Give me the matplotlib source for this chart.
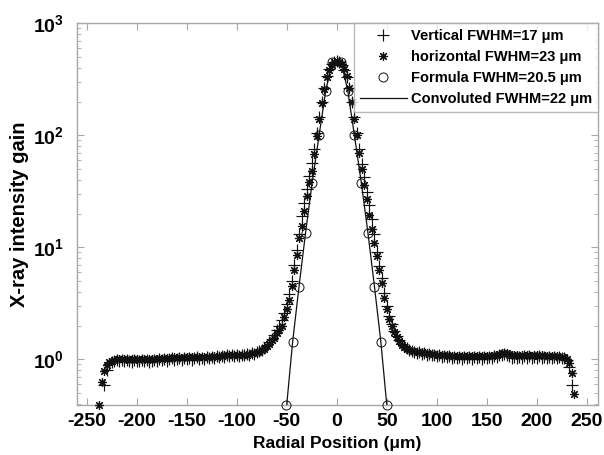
import numpy as np
import matplotlib
matplotlib.use("Agg")
import matplotlib.pyplot as plt
from matplotlib.ticker import FixedLocator, FuncFormatter, LogLocator, NullFormatter
from matplotlib.lines import Line2D

plt.rcParams['font.family'] = ['Liberation Sans', 'DejaVu Sans']
plt.rcParams['mathtext.fontset'] = 'custom'
plt.rcParams['mathtext.rm'] = 'Liberation Sans:bold'
plt.rcParams['mathtext.bf'] = 'Liberation Sans:bold'
plt.rcParams['mathtext.it'] = 'Liberation Sans:bold'

# ---------------- data ----------------
horiz_x0 = -237.5
horiz_step = 2.5
horiz_y = [
    0.39, 0.62, 0.78, 0.88, 0.94, 0.97, 0.99, 1.00, 1.01, 1.00,
    1.01, 1.00, 0.99, 1.00, 1.01, 1.00, 0.99, 1.00, 1.00, 0.99,
    1.00, 1.01, 1.00, 1.01, 1.02, 1.01, 1.02, 1.03, 1.02, 1.03,
    1.04, 1.03, 1.04, 1.03, 1.04, 1.04, 1.05, 1.04, 1.04, 1.05,
    1.04, 1.05, 1.05, 1.04, 1.05, 1.05, 1.06, 1.05, 1.06, 1.07,
    1.08, 1.09, 1.10, 1.10, 1.09, 1.08, 1.08, 1.09, 1.10, 1.10,
    1.12, 1.13, 1.14, 1.15, 1.17, 1.20, 1.24, 1.30, 1.38, 1.48,
    1.55, 1.70, 1.84, 2.0, 2.4, 2.8, 3.4, 4.5, 6.2, 8.6,
    12, 15.5, 21, 28.5, 38, 48, 68, 98, 140, 195,
    260, 330, 385, 425, 450, 460, 452, 430, 388, 335,
    265, 200, 140, 100, 70, 50, 36, 27, 19.5, 14.5,
    11, 8.3, 6.2, 4.8, 3.5, 2.8, 2.3, 2.0, 1.75, 1.58,
    1.45, 1.35, 1.28, 1.24, 1.21, 1.19, 1.18, 1.17, 1.16, 1.15,
    1.14, 1.13, 1.12, 1.12, 1.11, 1.10, 1.10, 1.09, 1.08, 1.08,
    1.07, 1.07, 1.06, 1.06, 1.07, 1.06, 1.06, 1.07, 1.07, 1.06,
    1.07, 1.06, 1.06, 1.07, 1.06, 1.06, 1.07, 1.07, 1.08, 1.09,
    1.11, 1.13, 1.14, 1.13, 1.11, 1.09, 1.08, 1.08, 1.07, 1.08,
    1.07, 1.08, 1.08, 1.07, 1.08, 1.08, 1.07, 1.08, 1.07, 1.07,
    1.06, 1.07, 1.06, 1.06, 1.05, 1.05, 1.04, 1.00, 0.93, 0.76,
    0.49,
]

vert_x0 = -232.5
vert_step = 2.5
vert_y = [
    0.59, 0.80, 0.90, 0.95, 0.97, 0.98, 0.97, 0.99, 0.96, 0.98,
    0.97, 0.95, 0.98, 0.96, 0.97, 0.99, 0.96, 0.98, 0.95, 0.97,
    0.99, 0.97, 1.00, 0.98, 1.01, 0.97, 1.00, 1.02, 0.98, 1.01,
    1.03, 0.99, 1.02, 1.00, 1.03, 0.99, 1.02, 1.04, 1.00, 1.03,
    1.01, 1.04, 1.02, 1.05, 1.03, 1.06, 1.04, 1.07, 1.05, 1.08,
    1.07, 1.10, 1.06, 1.09, 1.07, 1.10, 1.08, 1.12, 1.10, 1.13,
    1.12, 1.16, 1.18, 1.22, 1.27, 1.33, 1.42, 1.52, 1.65, 1.82,
    2.0, 2.25, 2.6, 3.1, 3.8, 5.0, 7.0, 9.5, 13, 19,
    25, 33, 43, 56, 75, 105, 145, 200, 265, 335,
    390, 430, 452, 458, 450, 425, 385, 330, 265, 200,
    145, 105, 75, 55, 42, 31, 24, 18, 13, 9.0,
    6.8, 5.3, 3.9, 3.0, 2.45, 2.05, 1.8, 1.6, 1.48, 1.38,
    1.30, 1.25, 1.22, 1.18, 1.17, 1.14, 1.15, 1.12, 1.13, 1.10,
    1.11, 1.08, 1.10, 1.06, 1.08, 1.05, 1.07, 1.04, 1.06, 1.03,
    1.05, 1.02, 1.05, 1.01, 1.04, 1.02, 1.05, 1.01, 1.04, 1.02,
    1.05, 1.01, 1.04, 1.02, 1.05, 1.03, 1.06, 1.05, 1.08, 1.10,
    1.12, 1.09, 1.06, 1.03, 1.05, 1.02, 1.05, 1.03, 1.06, 1.03,
    1.06, 1.02, 1.05, 1.03, 1.06, 1.02, 1.05, 1.03, 1.05, 1.02,
    1.04, 1.02, 1.04, 1.03, 1.02, 0.98, 0.85, 0.59,
]

formula_x = [-50.5, -44, -37.5, -31, -24.5, -17.5, -11, -4.5,
             4.5, 11, 17.5, 24.5, 31, 37.5, 44, 50.5]
formula_y = [0.39, 1.41, 4.46, 13.5, 37.6, 100, 247, 450,
             450, 247, 100, 37.6, 13.5, 4.46, 1.41, 0.39]

conv_x = [-50, -44, -37.5, -31, -24.5, -17.5, -11, -5, 0,
          5, 11, 17.5, 24.5, 31, 37.5, 44, 50]
conv_y = [0.39, 1.45, 4.6, 13.8, 38, 102, 250, 430, 460,
          430, 250, 102, 38, 13.8, 4.6, 1.45, 0.39]

labels = ["Vertical FWHM=17 \u03bcm", "horizontal FWHM=23 \u03bcm",
          "Formula FWHM=20.5 \u03bcm", "Convoluted FWHM=22 \u03bcm"]
x_ticks = [-250, -200, -150, -100, -50, 0, 50, 100, 150, 200, 250]
y_ticks = [1, 10, 100, 1000]

horiz_x = horiz_x0 + horiz_step * np.arange(len(horiz_y))
vert_x = vert_x0 + vert_step * np.arange(len(vert_y))

# ---------------- figure ----------------
fig = plt.figure(figsize=(6.04, 4.55), dpi=100)
ax = fig.add_axes([0.1267, 0.1099, 0.8633, 0.8389])

mk_col = '#111111'
asterisk = (8, 2, 0)
ax.plot(vert_x, vert_y, linestyle='none', marker='+', markersize=8,
        markeredgewidth=0.85, color=mk_col, clip_on=False, zorder=3)
ax.plot(horiz_x, horiz_y, linestyle='none', marker=asterisk, markersize=6.5,
        markeredgewidth=0.85, color=mk_col, clip_on=False, zorder=3)
ax.plot(formula_x, formula_y, linestyle='none', marker='o', markersize=6.5,
        markerfacecolor='none', markeredgewidth=0.7, markeredgecolor=mk_col,
        clip_on=False, zorder=4)
ax.plot(conv_x, conv_y, linestyle='-', linewidth=0.9, color=mk_col, zorder=2)

ax.set_yscale('log')
ax.set_xlim(-260, 261)
ax.set_ylim(0.39, 1000)

ax.xaxis.set_major_locator(FixedLocator(x_ticks))
ax.xaxis.set_major_formatter(FuncFormatter(lambda v, p: f"{int(v)}"))
ax.yaxis.set_major_locator(FixedLocator(y_ticks))
ax.yaxis.set_major_formatter(FuncFormatter(
    lambda v, p: r"$\mathbf{10^{%d}}$" % int(round(np.log10(v)))))
ax.yaxis.set_minor_locator(LogLocator(base=10, subs=np.arange(2, 10), numticks=20))
ax.yaxis.set_minor_formatter(NullFormatter())

spine_col = '#a8a8a8'
for s in ax.spines.values():
    s.set_color(spine_col)
    s.set_linewidth(1.0)

ax.tick_params(axis='both', which='both', direction='in', top=True, right=True,
               color=spine_col)
ax.tick_params(axis='both', which='major', length=5, width=0.8)
ax.tick_params(axis='y', which='minor', length=3, width=0.6)
ax.tick_params(axis='x', which='major', labelsize=14, pad=6)
ax.tick_params(axis='y', which='major', labelsize=14, pad=9)
for lab in ax.get_xticklabels():
    lab.set_fontweight('bold')

ax.set_xlabel("Radial Position (\u03bcm)", fontsize=12.5, fontweight='bold', labelpad=4)
ax.set_ylabel("X-ray intensity gain", fontsize=14.5, fontweight='bold', labelpad=3)

handles = [
    Line2D([], [], linestyle='none', marker='+', markersize=8, markeredgewidth=0.85, color=mk_col),
    Line2D([], [], linestyle='none', marker=asterisk, markersize=6.5, markeredgewidth=0.85, color=mk_col),
    Line2D([], [], linestyle='none', marker='o', markersize=6.5, markerfacecolor='none',
           markeredgewidth=0.7, markeredgecolor=mk_col),
    Line2D([], [], linestyle='-', linewidth=0.9, color=mk_col),
]
leg = ax.legend(handles, labels, loc='upper right', borderaxespad=0,
                fancybox=False, frameon=True, edgecolor=spine_col,
                prop={'size': 10.5, 'weight': 'bold'}, handlelength=3.2,
                handletextpad=0.3, labelspacing=0.48, borderpad=0.4, numpoints=1)
leg.get_frame().set_linewidth(1.0)

fig.savefig("out.png", dpi=100)
